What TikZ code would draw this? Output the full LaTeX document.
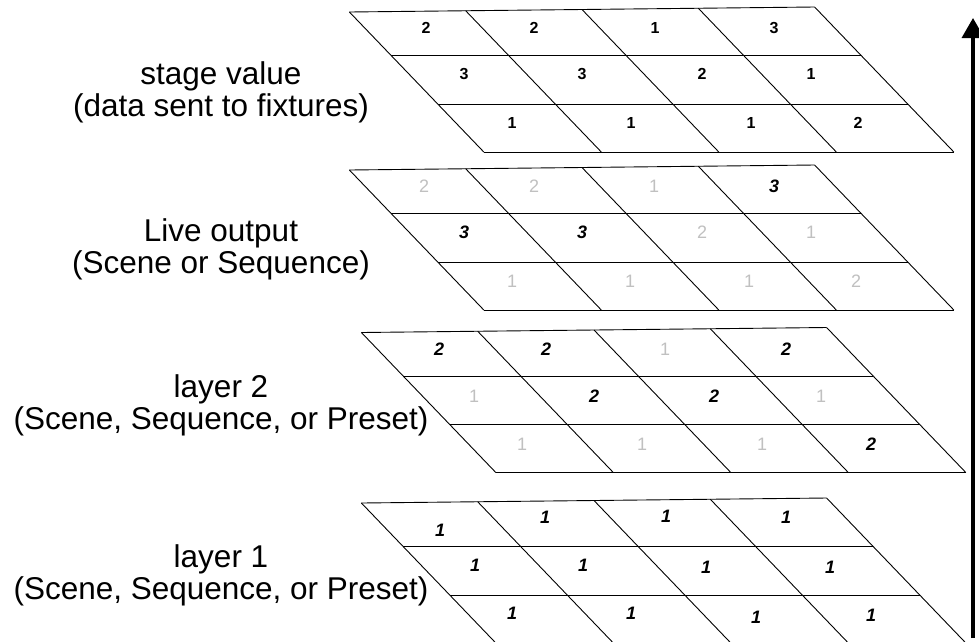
\documentclass[tikz,border=0pt]{standalone}
\usepackage{fontspec}
\setmainfont{Liberation Sans}
\usetikzlibrary{arrows.meta}
\definecolor{lightnum}{RGB}{192,192,192}
\tikzset{
  gridline/.style={draw=black, line width=0.9pt},
  lbl/.style={anchor=base, inner sep=0pt, font=\fontsize{31.5}{32}\selectfont},
  numA/.style={inner sep=0pt, font=\fontsize{16}{16}\selectfont\bfseries},
  numB/.style={inner sep=0pt, font=\fontsize{18}{18}\selectfont\bfseries\itshape},
  numG/.style={inner sep=0pt, text=lightnum, font=\fontsize{18}{18}\selectfont},
  uparrow/.style={line width=3.5pt, -{Triangle[length=20pt,width=22pt]}},
}
\newcommand{\layergrid}[2]{%
  \begin{scope}[shift={(#1,#2)}]
    \foreach \i in {0,...,4} {
      \draw[gridline] ({\i*117.5+0.96*(2.5-1.25*\i)},{2.5-1.25*\i}) -- ({\i*117.5+0.96*142.5},142.5);
    }
    \draw[gridline] (2.4,2.5) -- (467.6,-2.5);
    \foreach \r in {46,94.5,142.5} {
      \draw[gridline] ({0.96*\r},\r) -- ({470+0.96*\r},\r);
    }
  \end{scope}
}
\begin{document}
\begin{tikzpicture}[x=1pt,y=-1pt]
\useasboundingbox (0,0) rectangle (979,641);
\clip (0,0) rectangle (979,641);
\fill[white] (0,0) rectangle (979,641);

% grids
\layergrid{347}{9.5}
\layergrid{347}{167.5}
\layergrid{359}{330}
\layergrid{359}{500.5}

% labels
\node[lbl] (l1a) at (221,84) {stage value};
\node[lbl] (l1b) at (221,116) {(data sent to fixtures)};
\node[lbl] (l2a) at (221,241) {Live output};
\node[lbl] (l2b) at (221,273) {(Scene or Sequence)};
\node[lbl] (l3a) at (221,397) {layer 2};
\node[lbl] (l3b) at (221,429) {(Scene, Sequence, or Preset)};
\node[lbl] (l4a) at (221,567) {layer 1};
\node[lbl] (l4b) at (221,599) {(Scene, Sequence, or Preset)};

% grid 1 numbers
\foreach \x/\y/\t [count=\k] in {426/28/2, 534/28/2, 655/28/1, 774/28/3,
  464/74/3, 582/74/3, 702/74/2, 811/74/1,
  512/123/1, 631/123/1, 751/123/1, 858/123/2}
  \node[numA] (ga\k) at (\x,\y) {\t};

% grid 2 numbers
\foreach \x/\y/\t/\s [count=\k] in {424/186/2/numG, 534/186/2/numG, 654/186/1/numG, 774/186/3/numB,
  464/232/3/numB, 582/232/3/numB, 702/232/2/numG, 811/232/1/numG,
  512/281/1/numG, 630/281/1/numG, 749/281/1/numG, 856/281/2/numG}
  \node[\s] (gb\k) at (\x,\y) {\t};

% grid 3 numbers
\foreach \x/\y/\t/\s [count=\k] in {439/349/2/numB, 546/349/2/numB, 665/349/1/numG, 786/349/2/numB,
  474/396/1/numG, 594/396/2/numB, 714/396/2/numB, 821/396/1/numG,
  522/444/1/numG, 642/444/1/numG, 762/444/1/numG, 871/444/2/numB}
  \node[\s] (gc\k) at (\x,\y) {\t};

% grid 4 numbers
\foreach \x/\y [count=\k] in {440/530, 545/517, 666/516, 786/517,
  475/565, 583/565, 706/567, 830/567,
  512/613, 631/613, 756/617, 871/615}
  \node[numB] (gd\k) at (\x,\y) {1};

% arrow
\coordinate (arrbot) at (973,638);
\coordinate (arrtop) at (973,18);
\draw[uparrow] (arrbot) -- (arrtop);
\end{tikzpicture}
\end{document}
